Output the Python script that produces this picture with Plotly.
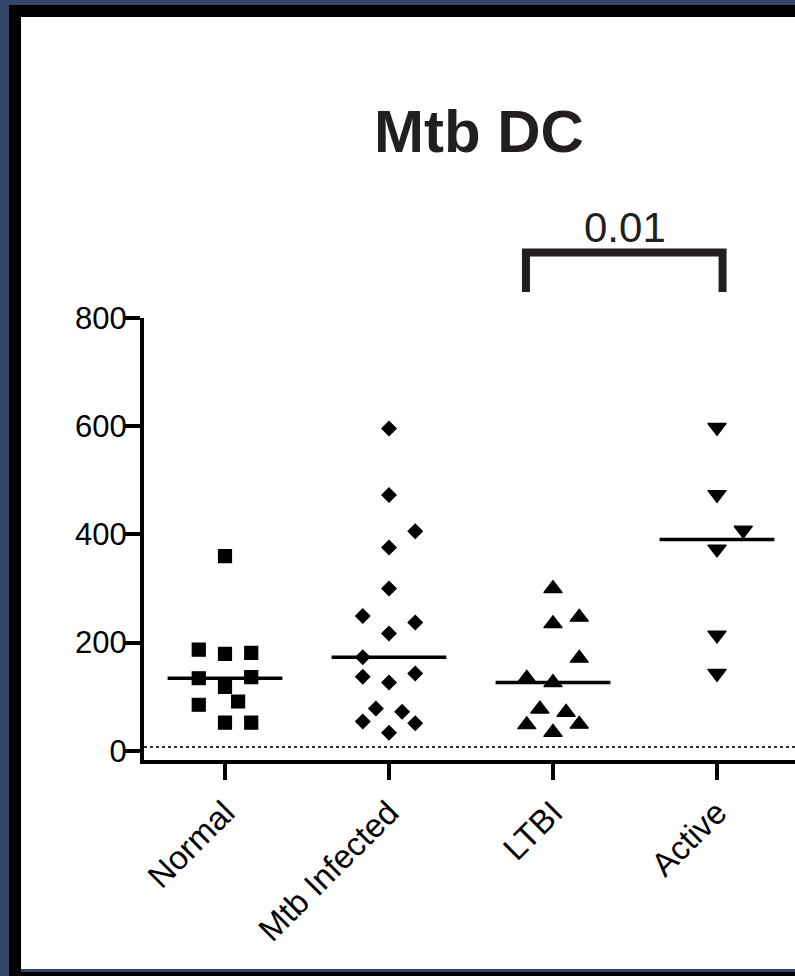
import numpy as np
import plotly.graph_objects as go

# ---------------- data ----------------
categories = ["Normal", "Mtb Infected", "LTBI", "Active"]

normal_vals = [360, 187, 179, 181, 134, 136, 118, 85, 91, 52, 52]
normal_cols = [0, -2, 0, 2, -2, 2, 0, -2, 1, 0, 2]

mtb_vals = [596, 473, 406, 376, 300, 249, 237, 217, 173, 137, 126, 143, 78, 72, 54, 33, 51]
mtb_cols = [0, 0, 2, 0, 0, -2, 2, 0, -2, -2, 0, 2, -1, 1, -2, 0, 2]

ltbi_vals = [300, 235, 247, 171, 134, 126, 77, 71, 48, 49, 34]
ltbi_cols = [0, 0, 2, 2, -2, 0, -1, 1, -2, 2, 0]

active_vals = [598, 474, 408, 373, 214, 143]
active_cols = [0, 0, 2, 0, 0, 0]

y_ticks = [0, 200, 400, 600, 800]
p_value_label = "0.01"
title_text = "Mtb DC"
detection_line = 7

# ---------------- layout geometry ----------------
W, H = 795, 976
ML, MR, MT, MB = 144, 0, 318, 216
PW = W - ML - MR
PH = H - MT - MB


def pxx(x):
    return (x - ML) / PW


def pxy(y):
    return (H - MB - y) / PH


groups = [
    (normal_vals, normal_cols, "square", 13),
    (mtb_vals, mtb_cols, "diamond", 11),
    (ltbi_vals, ltbi_cols, "triangle-up", 16),
    (active_vals, active_cols, "triangle-down", 16),
]

step = 0.08
half = 0.35
ink = "#000000"
dark = "#231f20"
navy = "#35466b"

fig = go.Figure()

for i, (vals, cols, sym, size) in enumerate(groups):
    xs = [i + c * step for c in cols]
    fig.add_trace(go.Scatter(
        x=xs, y=vals, mode="markers",
        marker=dict(symbol=sym, size=size, color=ink,
                    line=dict(color=ink, width=1.2)),
        showlegend=False, hoverinfo="skip"))
    med = float(np.median(vals))
    fig.add_trace(go.Scatter(
        x=[i - half, i + half], y=[med, med], mode="lines",
        line=dict(color=ink, width=3.5),
        showlegend=False, hoverinfo="skip"))

shapes = [
    # black frame and white interior
    dict(type="rect", xref="paper", yref="paper", layer="below",
         x0=pxx(9), x1=pxx(800), y0=pxy(5), y1=pxy(980),
         fillcolor="#000000", line=dict(width=0)),
    dict(type="rect", xref="paper", yref="paper", layer="below",
         x0=pxx(21), x1=pxx(800), y0=pxy(17), y1=pxy(969),
         fillcolor="#ffffff", line=dict(width=0)),
    dict(type="rect", xref="paper", yref="paper", layer="below",
         x0=pxx(21), x1=pxx(800), y0=pxy(969), y1=pxy(972),
         fillcolor=navy, line=dict(width=0)),
    # dotted reference line
    dict(type="line", xref="paper", yref="y", x0=0, x1=1,
         y0=detection_line, y1=detection_line,
         line=dict(color="#333333", width=2, dash="3px,3px")),
    # significance bracket
    dict(type="path", xref="x", yref="paper",
         path=f"M 1.835,{pxy(292)} L 1.835,{pxy(252.5)} L 3.034,{pxy(252.5)} L 3.034,{pxy(292)}",
         line=dict(color=dark, width=8)),
]

annotations = [
    dict(text=title_text, xref="paper", yref="paper",
         x=pxx(479), y=pxy(132), xanchor="center", yanchor="middle",
         showarrow=False,
         font=dict(family="Liberation Sans", size=60, color=dark, weight="bold")),
    dict(text=p_value_label, xref="paper", yref="paper",
         x=pxx(625), y=pxy(227), xanchor="center", yanchor="middle",
         showarrow=False,
         font=dict(family="Liberation Sans", size=42, color=dark)),
]

fig.update_layout(
    width=W, height=H,
    margin=dict(l=ML, r=MR, t=MT, b=MB, pad=0),
    paper_bgcolor=navy,
    plot_bgcolor="rgba(0,0,0,0)",
    shapes=shapes,
    annotations=annotations,
    showlegend=False,
    font=dict(family="Liberation Sans", color=ink),
)

fig.update_xaxes(
    range=[(ML - 225) / 164, (W - MR - 225) / 164],
    tickmode="array", tickvals=list(range(len(categories))), ticktext=categories,
    tickangle=-45, ticks="outside", ticklen=16, tickwidth=4, tickcolor=ink,
    showline=True, linewidth=4, linecolor=ink,
    showgrid=False, zeroline=False,
    tickfont=dict(family="Liberation Sans", size=33, color=ink),
)

fig.update_yaxes(
    range=[-17.2, 800.5],
    tickmode="array", tickvals=y_ticks, ticktext=[str(v) for v in y_ticks],
    ticks="outside", ticklen=15, tickwidth=4, tickcolor=ink,
    showline=True, linewidth=4, linecolor=ink,
    showgrid=False, zeroline=False, ticklabelstandoff=-8,
    tickfont=dict(family="Liberation Sans", size=31, color=ink),
)

fig.write_html(
    "out.html",
    config={"displayModeBar": False},
    post_script="document.body.style.margin='0px';document.body.style.overflow='hidden';",
)
